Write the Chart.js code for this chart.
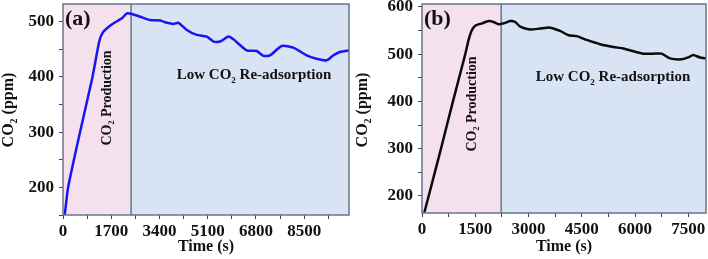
<!DOCTYPE html>
<html>
<head>
<meta charset="utf-8">
<script src="https://cdn.jsdelivr.net/npm/chart.js@4.4.1/dist/chart.umd.min.js"></script>
<style>
  body { margin: 0; background: #fff; width: 708px; height: 259px; overflow: hidden; position: relative; }
  canvas { position: absolute; top: 0; }
</style>
</head>
<body>
<canvas id="chartA" width="354" height="259" style="left:0"></canvas>
<canvas id="chartB" width="354" height="259" style="left:354px"></canvas>
<script>
// panel (a) - blue curve
var timeA = [0, 59, 180, 600, 1040, 1280, 1400, 1550, 1783, 2076, 2252, 2428, 2721, 3073, 3425, 3660, 3894, 4070, 4364, 4716, 5068, 5303, 5537, 5830, 6006, 6475, 6827, 7062, 7296, 7707, 8118, 8587, 8939, 9291, 9526, 9760, 10080];
var co2A  = [140, 150, 200, 300, 400, 465, 480, 488, 497, 506, 515, 514, 509, 503, 502, 498, 496, 498, 485, 476, 473, 464, 464, 473, 468, 448, 447, 438, 439, 456, 453, 439, 433, 430, 439, 445, 448];
var xTicksA = [0, 1700, 3400, 5100, 6800, 8500];
var yTicksA = [200, 300, 400, 500];

// panel (b) - black curve
var timeB = [66, 188, 534, 872, 1219, 1313, 1400, 1500, 1688, 1875, 2016, 2156, 2344, 2484, 2625, 2766, 3047, 3328, 3609, 3891, 4125, 4359, 4641, 5016, 5391, 5672, 6000, 6234, 6516, 6750, 6984, 7313, 7500, 7641, 7828, 8000];
var co2B  = [165, 200, 300, 400, 500, 530, 550, 560, 565, 570, 568, 563, 566, 570, 568, 558, 552, 554, 556, 549, 540, 538, 530, 521, 515, 512, 505, 501, 501, 501, 491, 489, 493, 498, 493, 491];
var xTicksB = [0, 1500, 3000, 4500, 6000, 7500];
var yTicksB = [200, 300, 400, 500, 600];

var FONT = "'Liberation Serif', 'Times New Roman', serif";
var frameColor = '#66768a';
var tickColor = '#3c4450';

function pts(xs, ys) {
  var out = [];
  for (var i = 0; i < xs.length; i++) out.push({x: xs[i], y: ys[i]});
  return out;
}

// major ticks plus a minor tick halfway between each pair, kept inside [min, max]
function tickList(major, min, max) {
  var step = major[1] - major[0];
  var out = [];
  for (var v = major[0] - step; v <= max; v += step / 2) {
    if (v >= min && v <= max) out.push({value: v});
  }
  return out;
}

// text with a subscript part: parts = [[text, isSub], ...]
function subText(ctx, parts, size, cx, cy) {
  var w = 0, i;
  for (i = 0; i < parts.length; i++) {
    ctx.font = 'bold ' + (parts[i][1] ? Math.round(size * 0.6) : size) + 'px ' + FONT;
    w += ctx.measureText(parts[i][0]).width;
  }
  var x = cx - w / 2;
  ctx.textAlign = 'left';
  ctx.textBaseline = 'middle';
  for (i = 0; i < parts.length; i++) {
    ctx.font = 'bold ' + (parts[i][1] ? Math.round(size * 0.6) : size) + 'px ' + FONT;
    ctx.fillText(parts[i][0], x, cy + (parts[i][1] ? size * 0.35 : 0));
    x += ctx.measureText(parts[i][0]).width;
  }
}

var panelPlugin = {
  id: 'panel',
  beforeDatasetsDraw: function(chart) {
    var p = chart.options.plugins.panel;
    var ctx = chart.ctx, a = chart.chartArea;
    var sx = chart.scales.x.getPixelForValue(p.split);
    ctx.save();
    ctx.fillStyle = '#f4e1ed';
    ctx.fillRect(a.left, a.top, sx - a.left, a.bottom - a.top);
    ctx.fillStyle = '#d8e4f4';
    ctx.fillRect(sx, a.top, a.right - sx, a.bottom - a.top);
    ctx.strokeStyle = frameColor;
    ctx.lineWidth = 1.5;
    ctx.beginPath();
    ctx.moveTo(sx, a.top);
    ctx.lineTo(sx, a.bottom);
    ctx.stroke();
    ctx.restore();
  },
  afterDatasetsDraw: function(chart) {
    var p = chart.options.plugins.panel;
    var ctx = chart.ctx, a = chart.chartArea;
    ctx.save();
    ctx.strokeStyle = frameColor;
    ctx.lineWidth = 1.5;
    ctx.strokeRect(a.left, a.top, a.right - a.left, a.bottom - a.top);
    ctx.fillStyle = '#111';
    // panel letter
    ctx.font = 'bold 22px ' + FONT;
    ctx.textAlign = 'left';
    ctx.textBaseline = 'middle';
    ctx.fillText(p.letter, a.left + 2, p.letterY);
    // region labels
    subText(ctx, [['Low CO', false], ['2', true], [' Re-adsorption', false]], 15, p.lowX, p.lowY);
    ctx.save();
    ctx.translate(p.prodX, p.prodY);
    ctx.rotate(-Math.PI / 2);
    subText(ctx, [['CO', false], ['2', true], [' Production', false]], 14, 0, 0);
    ctx.restore();
    // axis titles
    subText(ctx, [['Time (s)', false]], 16, (a.left + a.right) / 2, 247);
    ctx.save();
    ctx.translate(9, 110);
    ctx.rotate(-Math.PI / 2);
    subText(ctx, [['CO', false], ['2', true], [' (ppm)', false]], 16, 0, 0);
    ctx.restore();
    ctx.restore();
  }
};

function makeChart(id, xs, ys, color, cfg) {
  var ctx = document.getElementById(id).getContext('2d');
  return new Chart(ctx, {
    type: 'line',
    data: {
      datasets: [{
        data: pts(xs, ys),
        borderColor: color,
        borderWidth: 2.5,
        pointRadius: 0,
        tension: 0.2,
        fill: false
      }]
    },
    options: {
      responsive: false,
      animation: false,
      devicePixelRatio: 1,
      layout: { padding: { top: 4, right: cfg.padRight, left: 0, bottom: 0 } },
      plugins: {
        legend: { display: false },
        tooltip: { enabled: false },
        panel: cfg.panel
      },
      scales: {
        x: {
          type: 'linear',
          min: cfg.xMin, max: cfg.xMax,
          grid: { drawOnChartArea: false, drawTicks: true, tickLength: 4, color: tickColor, lineWidth: 1 },
          border: { display: false },
          ticks: {
            autoSkip: false,
            maxRotation: 0,
            padding: 2,
            color: '#111',
            font: { family: FONT, size: 17, weight: 'bold' },
            callback: function(v) { return cfg.xTicks.indexOf(v) >= 0 ? String(v) : ''; }
          },
          afterBuildTicks: function(s) { s.ticks = tickList(cfg.xTicks, cfg.xMin, cfg.xMax); },
          afterFit: function(s) { s.height = cfg.xHeight; s.paddingLeft = 0; s.paddingRight = 0; }
        },
        y: {
          min: cfg.yMin, max: cfg.yMax,
          grid: { drawOnChartArea: false, drawTicks: true, tickLength: 4, color: tickColor, lineWidth: 1 },
          border: { display: false },
          ticks: {
            autoSkip: false,
            padding: 5,
            color: '#111',
            font: { family: FONT, size: 17, weight: 'bold' },
            callback: function(v) { return cfg.yTicks.indexOf(v) >= 0 ? String(v) : ''; }
          },
          afterBuildTicks: function(s) { s.ticks = tickList(cfg.yTicks, cfg.yMin, cfg.yMax); },
          afterFit: function(s) { s.width = cfg.yWidth; s.paddingTop = 0; s.paddingBottom = 0; }
        }
      }
    },
    plugins: [panelPlugin]
  });
}

makeChart('chartA', timeA, co2A, '#1616f2', {
  xMin: 0, xMax: 10080, xTicks: xTicksA,
  yMin: 150, yMax: 532, yTicks: yTicksA,
  yWidth: 63, xHeight: 44, padRight: 5,
  panel: { split: 2400, letter: '(a)', letterY: 19, lowX: 254, lowY: 75, prodX: 107, prodY: 98 }
});

makeChart('chartB', timeB, co2B, '#0a0a0a', {
  xMin: 0, xMax: 8000, xTicks: xTicksB,
  yMin: 164, yMax: 606, yTicks: yTicksB,
  yWidth: 68, xHeight: 46, padRight: 2,
  panel: { split: 2230, letter: '(b)', letterY: 19, lowX: 259, lowY: 77, prodX: 118, prodY: 104 }
});
</script>
</body>
</html>
